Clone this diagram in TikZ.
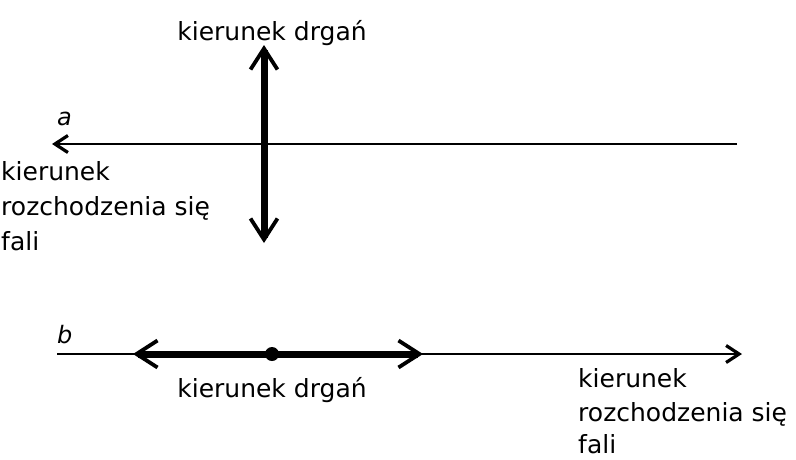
\documentclass[tikz,border=0pt]{standalone}
\usepackage{fontspec}
\setmainfont{DejaVu Sans}
\usetikzlibrary{arrows.meta}
\begin{document}
\begin{tikzpicture}[x=1pt,y=-1pt,
  lbl/.style={font=\fontsize{25}{30}\selectfont, inner sep=0pt},
  ital/.style={font=\fontsize{24}{30}\selectfont\itshape, inner sep=0pt},
  thinline/.style={line width=2.4pt},
  thinhead/.style={-{Straight Barb[length=13pt,width=17pt,line width=3.2pt]}},
  thickheads/.style={{Straight Barb[length=21pt,width=27pt,line width=3.8pt]}-{Straight Barb[length=21pt,width=27pt,line width=3.8pt]}},
  thickline/.style={line width=7pt}
]
\useasboundingbox (0,0) rectangle (796,459);
% --- part a ---
\coordinate (aR) at (737,144);
\coordinate (aL) at (52,144);
\draw[thinhead,thinline] (aR) -- (aL);
\coordinate (vT) at (264,45);
\coordinate (vB) at (264,243);
\draw[thickheads,thickline] (vT) -- (vB);
\node[lbl,anchor=base] (topdrg) at (272,40) {kierunek drgań};
\node[ital,anchor=base west] (la) at (57,125) {a};
\node[lbl,anchor=base west] (al1) at (1,180) {kierunek};
\node[lbl,anchor=base west] (al2) at (1,215) {rozchodzenia się};
\node[lbl,anchor=base west] (al3) at (1,250) {fali};
% --- part b ---
\coordinate (bL) at (57,354);
\coordinate (bR) at (742,354);
\draw[thinhead,thinline] (bL) -- (bR);
\coordinate (hL) at (133,354);
\coordinate (hR) at (423,354);
\draw[thickheads,thickline] (hL) -- (hR);
\fill (272,354) circle (7pt);
\node[ital,anchor=base west] (lb) at (57,343) {b};
\node[lbl,anchor=base] (botdrg) at (272,397) {kierunek drgań};
\node[lbl,anchor=base west] (bl1) at (578,387) {kierunek};
\node[lbl,anchor=base west] (bl2) at (578,421) {rozchodzenia się};
\node[lbl,anchor=base west] (bl3) at (578,453) {fali};
\end{tikzpicture}
\end{document}
